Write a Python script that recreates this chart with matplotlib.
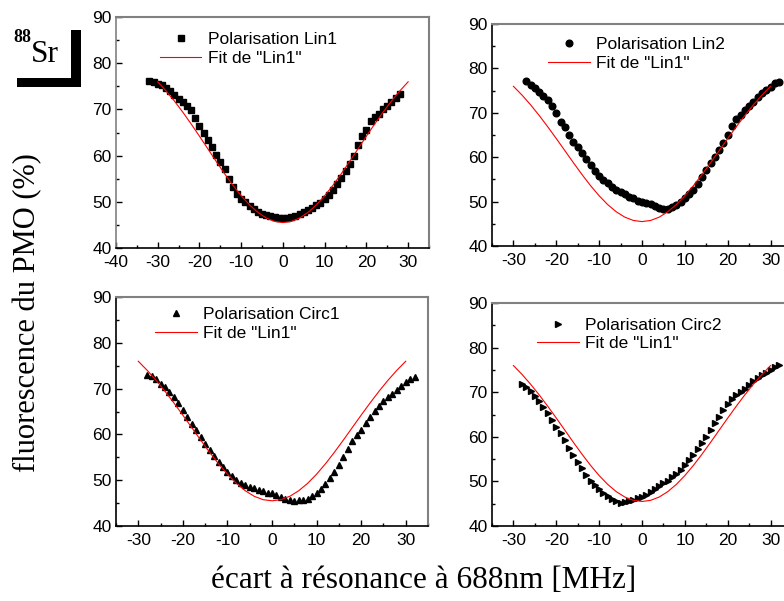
import matplotlib
matplotlib.use("Agg")
import matplotlib.pyplot as plt
import matplotlib.patches as patches
import numpy as np

plt.rcParams['font.family'] = ['Liberation Sans', 'DejaVu Sans']
plt.rcParams['axes.unicode_minus'] = False

# Fit de "Lin1" (same curve drawn in every panel)
fit_x = list(range(-30, 31, 2))
fit_y = [75.97, 73.99, 71.80, 69.41, 66.86, 64.20, 61.48, 58.75, 56.10, 53.59,
         51.31, 49.32, 47.70, 46.49, 45.75, 45.5, 45.75, 46.49, 47.70, 49.32,
         51.31, 53.59, 56.10, 58.75, 61.48, 64.20, 66.86, 69.41, 71.80, 73.99, 75.97]

# Polarisation Lin1
lin1_x = list(range(-32, 29))
lin1_y = [76.1, 75.9, 75.6, 75.2, 74.7, 74.0, 73.2, 72.3, 71.6, 70.8,
          69.9, 68.2, 66.3, 64.8, 63.4, 61.8, 60.2, 58.7, 57.0, 55.0,
          53.2, 51.6, 50.7, 49.9, 49.1, 48.4, 47.8, 47.4, 47.1, 46.9,
          46.7, 46.6, 46.5, 46.6, 46.8, 47.0, 47.3, 47.7, 48.2, 48.7,
          49.3, 49.8, 50.5, 51.4, 52.5, 53.8, 55.2, 56.6, 58.2, 60.0,
          62.4, 64.2, 65.6, 67.5, 68.4, 69.1, 70.0, 70.8, 71.7, 72.5, 73.3]

# Polarisation Lin2
lin2_x = list(range(-27, 33))
lin2_y = [77.2, 76.3, 75.6, 74.7, 73.8, 72.9, 71.5, 69.9, 68.0, 66.8,
          65.0, 63.5, 62.2, 61.0, 59.6, 58.2, 57.0, 55.8, 54.9, 54.2,
          53.3, 52.6, 52.1, 51.7, 51.1, 50.7, 50.2, 49.9, 49.6, 49.4,
          49.1, 48.6, 48.3, 48.4, 48.8, 49.3, 49.9, 50.7, 51.6, 52.6,
          54.0, 55.6, 57.1, 58.6, 60.1, 61.6, 63.3, 65.0, 67.0, 68.5,
          69.6, 70.6, 71.6, 72.5, 73.5, 74.4, 75.2, 75.9, 76.6, 77.0]

# Polarisation Circ1
circ1_x = list(range(-28, 33))
circ1_y = [73.0, 72.7, 72.2, 71.0, 70.3, 69.3, 68.2, 66.8, 65.3, 63.8,
           62.3, 60.9, 59.4, 58.0, 56.5, 55.2, 54.0, 52.8, 51.8, 50.9,
           50.1, 49.4, 48.9, 48.5, 48.2, 47.9, 47.6, 47.3, 47.1, 46.7,
           46.3, 45.9, 45.6, 45.4, 45.6, 45.7, 46.0, 46.5, 47.1, 48.0,
           49.2, 50.4, 51.8, 53.4, 55.1, 56.9, 58.6, 59.8, 61.0, 62.4,
           63.8, 65.2, 66.3, 67.3, 68.2, 68.9, 69.6, 70.6, 71.4, 72.0, 72.5]

# Polarisation Circ2
circ2_x = list(range(-28, 33))
circ2_y = [71.9, 71.2, 70.2, 69.2, 68.1, 66.7, 65.3, 63.8, 62.3, 60.8,
           59.2, 57.5, 55.9, 54.4, 52.9, 51.5, 50.2, 49.2, 48.4, 47.5,
           46.7, 46.1, 45.7, 45.2, 45.4, 45.7, 45.9, 46.2, 46.5, 47.0,
           47.6, 48.3, 49.0, 49.6, 50.2, 51.0, 51.7, 52.6, 53.6, 54.7,
           55.9, 57.2, 58.5, 60.0, 61.5, 63.0, 64.5, 66.0, 67.4, 68.4,
           69.3, 70.1, 70.8, 71.7, 72.6, 73.2, 73.8, 74.4, 74.9, 75.6, 76.2]

W, H = 784, 601
fig = plt.figure(figsize=(W / 100, H / 100), dpi=100)

def px_axes(left, top, right, bottom):
    # pixel box -> figure fraction
    return [left / W, 1 - bottom / H, (right - left) / W, (bottom - top) / H]

panels = [
    (px_axes(116, 17, 429, 248), lin1_x, lin1_y, 's', "Polarisation Lin1", (-40, 35), range(-40, 31, 10), (0.14, 0.935)),
    (px_axes(492, 24, 792, 246), lin2_x, lin2_y, 'o', "Polarisation Lin2", (-35, 35), range(-30, 31, 10), (0.187, 0.94)),
    (px_axes(116, 297, 428, 526), circ1_x, circ1_y, '^', "Polarisation Circ1", (-35, 35), range(-30, 31, 10), (0.125, 0.955)),
    (px_axes(492, 303, 792, 526), circ2_x, circ2_y, '>', "Polarisation Circ2", (-35, 35), range(-30, 31, 10), (0.15, 0.935)),
]

for i, (pos, xs, ys, mk, lab, xlim, xt, anchor) in enumerate(panels):
    ax = fig.add_axes(pos)
    ax.plot(xs, ys, linestyle='none', marker=mk, color='black', markersize=4.8, label=lab)
    ax.plot(fit_x, fit_y, color='red', linewidth=0.8, label='Fit de "Lin1"')
    ax.set_xlim(*xlim)
    ax.set_ylim(40, 90)
    ax.set_xticks(list(xt))
    ax.set_xticks(np.arange(xlim[0], xlim[1] + 0.1, 5), minor=True)
    ax.set_yticks(range(40, 91, 10))
    ax.set_yticks(range(45, 90, 10), minor=True)
    ax.tick_params(which='major', direction='in', length=4, width=1, labelsize=12.5, pad=3)
    ax.tick_params(which='minor', direction='in', length=2.5, width=1)
    ax.tick_params(axis='x', which='major', pad=5)
    for sp in ['top', 'right']:
        ax.spines[sp].set_color('#808080')
        ax.spines[sp].set_linewidth(1.5)
    ax.spines['left'].set_linewidth(1.2)
    ax.spines['bottom'].set_linewidth(1.2)
    if i == 0:
        ax.spines['left'].set_color('#808080')
    ax.legend(loc='upper left', bbox_to_anchor=anchor, frameon=False, fontsize=12.5,
              numpoints=1, handlelength=2.4, handletextpad=0.35, labelspacing=0.2,
              borderpad=0, borderaxespad=0)

# axis titles
fig.text(424 / W, 1 - 581 / H, "écart à résonance à 688nm [MHz]", ha='center', va='center',
         family='Liberation Serif', fontsize=22.5)
fig.text(28 / W, 1 - 313 / H, "fluorescence du PMO (%)", ha='center', va='center',
         rotation=90, family='Liberation Serif', fontsize=22)

# 88Sr logo
fig.text(13 / W, 1 - 37 / H, "88", ha='left', va='center', family='Liberation Serif',
         fontsize=13, fontweight='bold')
fig.text(31 / W, 1 - 62 / H, "Sr", ha='left', va='baseline', family='Liberation Serif',
         fontsize=22.5)
fig.patches.append(patches.Rectangle((71 / W, 1 - 87 / H), 10 / W, 57 / H, transform=fig.transFigure,
                                     facecolor='black', edgecolor='none'))
fig.patches.append(patches.Rectangle((17 / W, 1 - 87 / H), 64 / W, 9 / H, transform=fig.transFigure,
                                     facecolor='black', edgecolor='none'))

fig.savefig("out.png", dpi=100)
